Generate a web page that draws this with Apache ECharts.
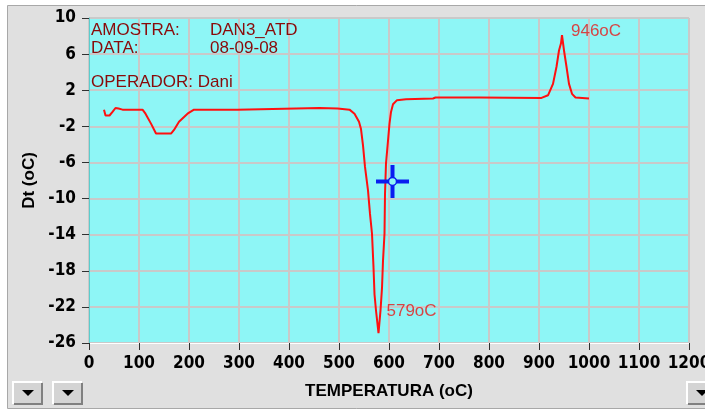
<!DOCTYPE html>
<html>
<head>
<meta charset="utf-8">
<script src="https://cdn.jsdelivr.net/npm/echarts@6/dist/echarts.min.js"></script>
<style>
  html, body { margin: 0; padding: 0; background: #ffffff; }
  #chart { width: 705px; height: 412px; }
</style>
</head>
<body>
<div id="chart"></div>
<script>
// DTA run: temperature (oC) vs differential temperature Dt (oC)
const temperatura = [30, 33, 41, 47, 53, 59, 61, 67, 107, 113, 124, 134, 164, 170, 180, 197, 210, 297, 300,
  461, 497, 521, 531, 540, 544, 548, 552, 558, 562, 566, 569, 571, 574, 579, 583, 586, 588, 591, 592,
  594, 598, 601, 604, 608, 616, 634, 688, 693, 781, 905, 918, 928, 935, 940, 944, 946, 950, 955, 960,
  966, 973, 1000];
const dt = [-0.15, -0.8, -0.8, -0.4, 0.03, -0.03, -0.2, -0.15, -0.15, -0.6, -1.7, -2.8, -2.8, -2.4, -1.5,
  -0.6, -0.15, -0.15, 0.0, 0.03, -0.03, -0.15, -0.6, -1.5, -2.3, -4.1, -6.5, -9.1, -11.7, -13.9, -17.6,
  -20.6, -22.4, -24.9, -22.4, -19.9, -16.9, -13.9, -9.5, -6.1, -3.6, -1.7, -0.4, 0.44, 0.9, 1.0, 1.08,
  1.19, 1.2, 1.15, 1.44, 2.7, 4.6, 6.4, 7.2, 8.1, 6.4, 4.6, 2.7, 1.6, 1.2, 1.08];

// cursor position on the plot
const cursor = [607, -8.1];

// header fields
const infoLabels = ['AMOSTRA:', 'DATA:', 'OPERADOR: Dani'];
const infoValues = ['DAN3_ATD', '08-09-08'];

const xAxisTitle = 'TEMPERATURA (oC)';
const yAxisTitle = 'Dt (oC)';

// peaks: lowest and highest Dt of the run
let iMin = 0, iMax = 0;
dt.forEach((v, i) => { if (v < dt[iMin]) iMin = i; if (v > dt[iMax]) iMax = i; });

const tickFont = "'Liberation Sans Narrow', 'Arial Narrow', 'DejaVu Sans Condensed', sans-serif";
const titleFont = "'Liberation Sans', Arial, sans-serif";

const chart = echarts.init(document.getElementById('chart'), null, { renderer: 'canvas' });

function button(x, y, w, h) {
  return {
    type: 'group', x: x, y: y, silent: true,
    children: [
      { type: 'rect', shape: { x: 0, y: 0, width: w, height: h }, style: { fill: '#d4d4d4' } },
      { type: 'polyline', shape: { points: [[0, h - 1], [0, 0], [w - 1, 0]] }, style: { stroke: '#ffffff', lineWidth: 2, fill: null } },
      { type: 'polyline', shape: { points: [[1, h - 1], [w - 1, h - 1], [w - 1, 1]] }, style: { stroke: '#808080', lineWidth: 2, fill: null } },
      { type: 'polygon', shape: { points: [[w / 2 - 6, 8], [w / 2 + 6, 8], [w / 2, 14]] }, style: { fill: '#000000' } }
    ]
  };
}

const option = {
  animation: false,
  backgroundColor: 'transparent',
  grid: {
    left: 89, right: 16, top: 18, bottom: 69,
    outerBoundsMode: 'none', containLabel: false,
    show: true, backgroundColor: '#8ef6f6', borderWidth: 0
  },
  xAxis: {
    type: 'value', min: 0, max: 1200, interval: 100,
    name: xAxisTitle, nameLocation: 'middle', nameGap: 40,
    nameTextStyle: { fontFamily: titleFont, fontWeight: 'bold', fontSize: 17, color: '#000000' },
    axisLine: { show: true, onZero: false, lineStyle: { color: '#ffffff', width: 1 } },
    axisTick: { show: true, length: 7, lineStyle: { color: '#303030', width: 1 } },
    axisLabel: { fontFamily: tickFont, fontWeight: 'bold', fontSize: 17, color: '#000000', margin: 12,
      formatter: v => String(v), hideOverlap: false, showMaxLabel: true, showMinLabel: true },
    splitLine: { show: true, lineStyle: { color: '#c9c9c9', width: 2 } }
  },
  yAxis: {
    type: 'value', min: -26, max: 10, interval: 4,
    name: yAxisTitle, nameLocation: 'middle', nameGap: 50,
    nameTextStyle: { fontFamily: titleFont, fontWeight: 'bold', fontSize: 17, color: '#000000' },
    axisLine: { show: true, onZero: false, lineStyle: { color: '#5ccccc', width: 1 } },
    axisTick: { show: true, length: 7, lineStyle: { color: '#303030', width: 1 } },
    axisLabel: { fontFamily: tickFont, fontWeight: 'bold', fontSize: 17, color: '#000000', margin: 13,
      formatter: v => String(v) },
    splitLine: { show: true, lineStyle: { color: '#c9c9c9', width: 2 } }
  },
  series: [
    {
      type: 'line',
      data: temperatura.map((t, i) => [t, dt[i]]),
      showSymbol: false,
      lineStyle: { color: '#ff1010', width: 2 },
      z: 3
    },
    {
      type: 'scatter',
      symbolSize: 0,
      data: [
        { value: [temperatura[iMin], dt[iMin]], label: { offset: [8, -22] } },
        { value: [temperatura[iMax], dt[iMax]], label: { offset: [9, -4] } }
      ],
      label: {
        show: true, position: 'right', distance: 0,
        formatter: p => p.value[0] + 'oC',
        fontFamily: titleFont, fontSize: 17, color: '#e81818'
      },
      z: 4
    },
    {
      type: 'scatter',
      data: [cursor],
      symbol: 'path://M14.5,0h4v14.5h14.5v4h-14.5v14.5h-4v-14.5h-14.5v-4h14.5z',
      symbolSize: [33, 33],
      itemStyle: { color: '#0a1ef0', opacity: 1 },
      z: 5
    },
    {
      type: 'scatter',
      data: [cursor],
      symbol: 'circle',
      symbolSize: 8,
      itemStyle: { color: '#8ef6f6', borderColor: '#0a1ef0', borderWidth: 1.5, opacity: 1 },
      z: 6
    }
  ],
  graphic: [
    { type: 'rect', z: -10, silent: true, shape: { x: 7.5, y: 5.5, width: 720, height: 403 },
      style: { fill: '#e0e0e0', stroke: '#a8a8a8', lineWidth: 1 } },
    { type: 'text', x: 91, y: 22, z: 10, silent: true,
      style: { text: infoLabels[0], fontFamily: titleFont, fontSize: 17, fill: '#8a0a0a' } },
    { type: 'text', x: 91, y: 40, z: 10, silent: true,
      style: { text: infoLabels[1], fontFamily: titleFont, fontSize: 17, fill: '#8a0a0a' } },
    { type: 'text', x: 91, y: 74, z: 10, silent: true,
      style: { text: infoLabels[2], fontFamily: titleFont, fontSize: 17, fill: '#8a0a0a' } },
    { type: 'text', x: 210, y: 22, z: 10, silent: true,
      style: { text: infoValues[0], fontFamily: titleFont, fontSize: 17, fill: '#8a0a0a' } },
    { type: 'text', x: 210, y: 40, z: 10, silent: true,
      style: { text: infoValues[1], fontFamily: titleFont, fontSize: 17, fill: '#8a0a0a' } },
    button(13, 382, 30, 23),
    button(53, 382, 30, 23),
    button(687, 382, 30, 23)
  ]
};

chart.setOption(option);
</script>
</body>
</html>
